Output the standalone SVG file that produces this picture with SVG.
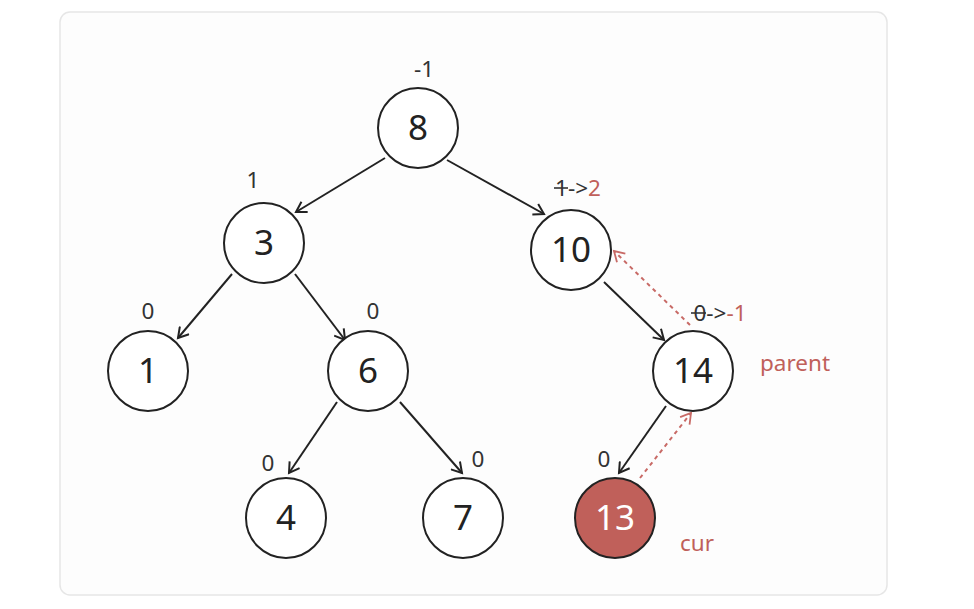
<svg xmlns="http://www.w3.org/2000/svg" width="974" height="609" viewBox="0 0 974 609">
<defs>
<marker id="ah" markerWidth="14" markerHeight="14" refX="11" refY="7" orient="auto" markerUnits="userSpaceOnUse">
<path d="M1,1 L11,7 L1,13" fill="none" stroke="#222" stroke-width="2"/>
</marker>
<marker id="ahr" markerWidth="14" markerHeight="14" refX="11" refY="7" orient="auto" markerUnits="userSpaceOnUse">
<path d="M1,1 L11,7 L1,13" fill="none" stroke="#c86a66" stroke-width="1.8"/>
</marker>
</defs>
<style>
.n{fill:#fff;stroke:#222;stroke-width:2}
.t{font-family:"Noto Sans","Open Sans",sans-serif;font-size:35px;fill:#222;text-anchor:middle}
.l{font-family:"Noto Sans","Open Sans",sans-serif;font-size:22.5px;fill:#333;text-anchor:middle}
.r{fill:#c0605a}
.e{stroke:#222;stroke-width:2;fill:none;marker-end:url(#ah)}
.d{stroke:#c86a66;stroke-width:2;stroke-dasharray:4 4;fill:none;marker-end:url(#ahr)}
</style>
<rect width="974" height="609" fill="#fff"/>
<rect x="60" y="12" width="827" height="583" rx="10" fill="#fdfdfd" stroke="#e6e6e6" stroke-width="1.5"/>
<g id="edges">
<line class="e" x1="385" y1="158" x2="296" y2="212"/>
<line class="e" x1="447" y1="160" x2="544" y2="214"/>
<line class="e" x1="232" y1="274" x2="178" y2="338"/>
<line class="e" x1="295" y1="274" x2="345" y2="340"/>
<line class="e" x1="337" y1="402" x2="289" y2="473"/>
<line class="e" x1="400" y1="402" x2="462" y2="473"/>
<line class="e" x1="604" y1="282" x2="664" y2="340"/>
<line class="e" x1="666" y1="406" x2="619" y2="473"/>
<line class="d" x1="690" y1="325" x2="614" y2="251"/>
<line class="d" x1="640" y1="478" x2="691" y2="413"/>
</g>
<g id="n8"><circle class="n" cx="418" cy="128" r="40"/><text class="t" x="418" y="140">8</text><text class="l" x="424" y="77">-1</text></g>
<g id="n3"><circle class="n" cx="264" cy="243" r="40"/><text class="t" x="264" y="255">3</text><text class="l" x="253" y="188">1</text></g>
<g id="n10"><circle class="n" cx="571" cy="250" r="40"/><text class="t" x="571" y="262">10</text>
<text class="l" x="578" y="196"><tspan>1</tspan><tspan>-&gt;</tspan><tspan class="r">2</tspan></text>
<line x1="554" y1="188" x2="568" y2="188" stroke="#333" stroke-width="1.6"/></g>
<g id="n1"><circle class="n" cx="148" cy="371" r="40"/><text class="t" x="148" y="383">1</text><text class="l" x="148" y="319">0</text></g>
<g id="n6"><circle class="n" cx="368" cy="371" r="40"/><text class="t" x="368" y="383">6</text><text class="l" x="373" y="319">0</text></g>
<g id="n14"><circle class="n" cx="693" cy="371" r="40"/><text class="t" x="693" y="383">14</text>
<text class="l" x="720" y="321"><tspan>0</tspan><tspan>-&gt;</tspan><tspan class="r">-1</tspan></text>
<line x1="691" y1="313" x2="706" y2="313" stroke="#333" stroke-width="1.6"/>
<text class="l r" x="795" y="371">parent</text></g>
<g id="n4"><circle class="n" cx="286" cy="518" r="40"/><text class="t" x="286" y="530">4</text><text class="l" x="268" y="471">0</text></g>
<g id="n7"><circle class="n" cx="463" cy="518" r="40"/><text class="t" x="463" y="530">7</text><text class="l" x="478" y="467">0</text></g>
<g id="n13"><circle cx="615" cy="518" r="40" fill="#c0605a" stroke="#222" stroke-width="2"/><text class="t" x="615" y="530" style="fill:#fff">13</text><text class="l" x="604" y="467">0</text>
<text class="l r" x="697" y="551">cur</text></g>
</svg>
